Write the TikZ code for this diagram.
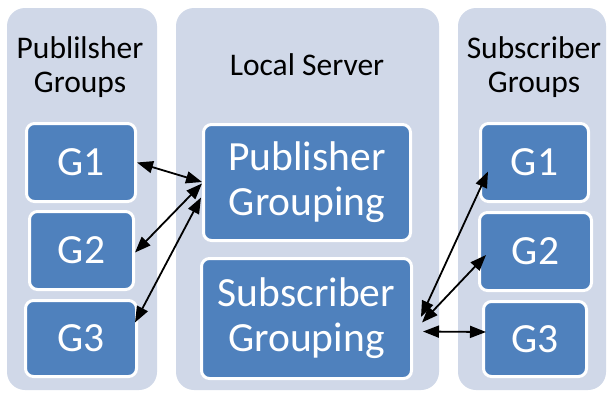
\documentclass[tikz,border=0pt]{standalone}
\usepackage{fontspec}
\setmainfont{Carlito}
\usetikzlibrary{arrows.meta}
\definecolor{panelfill}{HTML}{D0D8E8}
\definecolor{boxfill}{HTML}{4F81BD}
\tikzset{
  panel/.style={fill=panelfill, rounded corners=18pt},
  header/.style={align=center, inner sep=0pt, text=black,
    font=\fontsize{31.5}{34}\selectfont},
  gbox/.style={draw=white, line width=3pt, fill=boxfill, rounded corners=8pt,
    text=white, align=center, inner sep=0pt,
    font=\fontsize{41.5}{45}\selectfont},
  link/.style={line width=1.8pt, {Triangle[length=16pt,width=12pt]}-{Triangle[length=16pt,width=12pt]}}
}
\begin{document}
\begin{tikzpicture}[x=1pt, y=-1pt]
  \useasboundingbox (0,0) rectangle (608,394);
  % three column panels
  \fill[panel] (7,8) rectangle (157,390);
  \fill[panel] (176,8) rectangle (439,390);
  \fill[panel] (458,8) rectangle (606,390);

  % column headings
  \node[header] (hpub) at (80,67) {Publilsher\\Groups};
  \node[header, anchor=base] (hsrv) at (307,75) {Local Server};
  \node[header] (hsub) at (534,67) {Subscriber\\Groups};

  % publisher groups
  \node[gbox, minimum width=109pt, minimum height=78pt] (lg1) at (81,162.5) {G1};
  \node[gbox, minimum width=104pt, minimum height=78pt] (lg2) at (81.5,250.5) {G2};
  \node[gbox, minimum width=111pt, minimum height=76pt] (lg3) at (81,338.5) {G3};

  % local server blocks
  \node[gbox, minimum width=207pt, minimum height=116pt] (pg) at (307,182.5) {Publisher\\Grouping};
  \node[gbox, minimum width=210pt, minimum height=120pt] (sg) at (306.5,318.5) {Subscriber\\Grouping};

  % subscriber groups
  \node[gbox, minimum width=108pt, minimum height=78pt] (rg1) at (534.5,162.5) {G1};
  \node[gbox, minimum width=112pt, minimum height=78pt] (rg2) at (535.5,251.5) {G2};
  \node[gbox, minimum width=103pt, minimum height=75pt] (rg3) at (535,339) {G3};

  % publisher links
  \draw[link] (lg1.east) -- ([yshift=0.5pt]pg.west);
  \draw[link] ([yshift=-2pt]lg2.east) -- ([yshift=-1pt]pg.west);
  \draw[link] ([xshift=-3pt,yshift=16pt]lg3.east) -- ([xshift=-1pt,yshift=-15pt]pg.west);

  % subscriber links
  \draw[link] ([xshift=8pt,yshift=1.5pt]sg.east) -- ([xshift=9pt,yshift=-9pt]rg1.west);
  \draw[link] ([xshift=9pt,yshift=-4pt]sg.east) -- ([xshift=8pt,yshift=-3.5pt]rg2.west);
  \draw[link] ([xshift=10pt,yshift=-13pt]sg.east) -- ([xshift=4pt,yshift=7pt]rg3.west);
\end{tikzpicture}
\end{document}
